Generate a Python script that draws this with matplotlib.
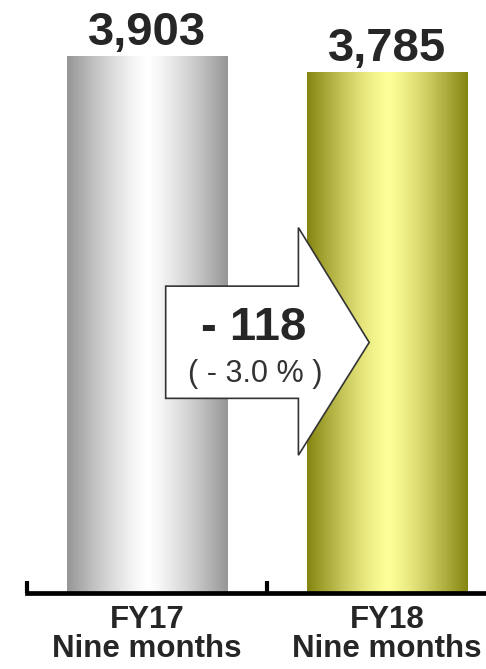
import numpy as np
import matplotlib
matplotlib.use("Agg")
import matplotlib.pyplot as plt
from matplotlib.patches import Polygon

plt.rcParams['font.family'] = ['Liberation Sans', 'DejaVu Sans']

# Net sales, nine-month totals
categories = ["FY17\nNine months", "FY18\nNine months"]
values = [3903, 3785]
edge_colors = [(150, 150, 150), (132, 132, 16)]
mid_colors = [(255, 255, 255), (255, 255, 153)]

diff = values[1] - values[0]
pct = diff / values[0] * 100

TXT = '#262626'
BAR_W = 0.67

fig = plt.figure(figsize=(4.86, 6.69), dpi=100)
ax = fig.add_axes([0.056, 0.1129, 0.944, 0.8871])

def gradient(edge, mid, n=256):
    t = np.abs(np.linspace(-1, 1, n)) ** 1.3
    e = np.array(edge) / 255.0
    m = np.array(mid) / 255.0
    row = m[None, :] + (e - m)[None, :] * t[:, None]
    return row[None, :, :]

for i, v in enumerate(values):
    bar = ax.bar(i, v, width=BAR_W, color='none', edgecolor='none', zorder=1)[0]
    im = ax.imshow(gradient(edge_colors[i], mid_colors[i]),
                   extent=[i - BAR_W / 2, i + BAR_W / 2, 0, v],
                   aspect='auto', interpolation='bilinear', zorder=1)
    im.set_clip_path(bar)
    ax.annotate(f"{v:,}", xy=(i, v), xytext=(0, 8), textcoords='offset points',
                ha='center', va='baseline', fontsize=34, fontweight='bold',
                color=TXT)

ax.set_xlim(-0.5, 1.4117)
ax.set_ylim(0, 4310)

# Change arrow pointing from FY17 to FY18
arrow_x = [0.077, 0.630, 0.630, 0.925, 0.630, 0.630, 0.077]
arrow_y = [2232, 2232, 2657, 1823, 1004, 1417, 1417]
ax.add_patch(Polygon(np.column_stack([arrow_x, arrow_y]), closed=True,
                     facecolor='white', edgecolor='#333333', linewidth=1.2,
                     zorder=3))
sign = '-' if diff < 0 else '+'
ax.text(0.445, 1841, f"{sign} {abs(diff):,}", ha='center', va='baseline',
        fontsize=34, fontweight='bold', color=TXT, zorder=4)
ax.text(0.452, 1538, f"( {sign} {abs(pct):.1f} % )", ha='center', va='baseline',
        fontsize=22, color='#333333', zorder=4)

for s in ['top', 'left', 'right']:
    ax.spines[s].set_visible(False)
ax.spines['bottom'].set_linewidth(3.4)
ax.spines['bottom'].set_color('black')
ax.spines['bottom'].set_zorder(5)

ax.set_yticks([])
ax.set_xticks([0, 1])
ax.set_xticklabels(categories, fontsize=22.5, fontweight='bold', color=TXT,
                   linespacing=0.98)
ax.tick_params(axis='x', which='major', length=0, pad=8)
ax.set_xticks([-0.5, 0.5], minor=True)
ax.tick_params(axis='x', which='minor', length=8.6, width=3, direction='in',
               color='black')

fig.savefig('out.png', dpi=100)
